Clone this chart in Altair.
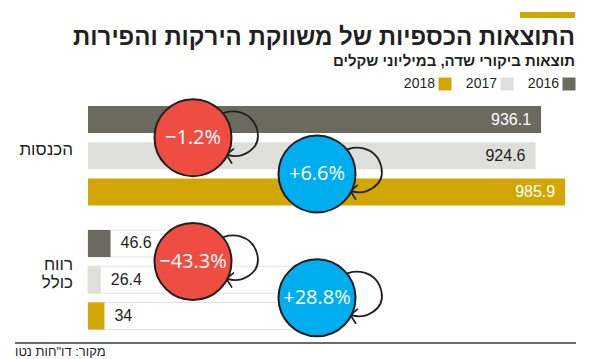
import altair as alt
import pandas as pd

# ---- data ----
GROUPS = ["הכנסות", "רווח\nכולל"]
YEARS = ["2016", "2017", "2018"]
REVENUE = [936.1, 924.6, 985.9]
PROFIT = [46.6, 26.4, 34]
CHANGE_REV = ["−1.2%", "+6.6%"]
CHANGE_PROF = ["−43.3%", "+28.8%"]
COLORS = ["#6B6A5F", "#DEDEDA", "#D2A704"]

TITLE = "התוצאות הכספיות של משווקת הירקות והפירות"
SUBTITLE = "תוצאות ביקורי שדה, במיליוני שקלים"
SOURCE = "מקור: דו\"חות נטו"

# ---- layout constants (pixels) ----
W, PT, PH = 574, 92, 259
ZERO_PX, PPU = 80, 0.484          # x of value 0, pixels per unit
FIRST_ROW_PX, PITCH = 19.5, 36.25  # centre of first row, row pitch
GROUP_STEP = 3.42                  # rows between the two groups
BAR_HALF = 13.5 / PITCH
CAT_LH = 18

HEB = "Liberation Sans"
NUM = "Liberation Sans"
DARK = "#231F20"

rows = []
for gi, vals in enumerate([REVENUE, PROFIT]):
    for yi, (yr, v) in enumerate(zip(YEARS, vals)):
        slot = gi * GROUP_STEP + yi
        rows.append(dict(group=gi, year=yr, value=v, label=f"{v:g}",
                         slot=slot, y0=slot - BAR_HALF, y1=slot + BAR_HALF))
df = pd.DataFrame(rows)

circ = []
for gi, ch in enumerate([CHANGE_REV, CHANGE_PROF]):
    for k, txt in enumerate(ch):
        circ.append(dict(group=gi, k=k, text=txt, slot=gi * GROUP_STEP + k + 0.5,
                         neg=txt.startswith("−")))
dc = pd.DataFrame(circ)

cats = pd.DataFrame(dict(
    name=GROUPS,
    slot=[gi * GROUP_STEP + 1 - (g.count("\n")) * 0.5 * CAT_LH / PITCH
          for gi, g in enumerate(GROUPS)]))
leg = pd.DataFrame(dict(year=YEARS))
one = alt.Data(values=[{}])

XS = alt.Scale(domain=[-ZERO_PX / PPU, (W - ZERO_PX) / PPU], nice=False, zero=False)
YS = alt.Scale(domain=[-FIRST_ROW_PX / PITCH, (PH - FIRST_ROW_PX) / PITCH],
               nice=False, zero=False, reverse=True)
X = lambda f: alt.X(f, type="quantitative", scale=XS, axis=None)
Y = lambda f: alt.Y(f, type="quantitative", scale=YS, axis=None)
CS = alt.Scale(domain=YEARS, range=COLORS)

base = alt.Chart(df)

# tracks behind the profit bars
prof = base.transform_filter("datum.group == 1")
track1 = prof.transform_filter("datum.year == '2016'").transform_calculate(zero="0").mark_rect(
    fill="white", stroke="#E2E2E2", strokeWidth=1).encode(
    x=alt.X("zero:Q", scale=XS, axis=None), x2=alt.value(185),
    y=Y("y0"), y2=alt.Y2("y1"))
track2 = prof.transform_filter("datum.year != '2016'").transform_calculate(zero="0").mark_rect(
    fill="white", stroke="#E2E2E2", strokeWidth=1).encode(
    x=alt.X("zero:Q", scale=XS, axis=None), x2=alt.value(309),
    y=Y("y0"), y2=alt.Y2("y1"))

bars = base.transform_calculate(zero="0").mark_rect().encode(
    x=alt.X("zero:Q", scale=XS, axis=None), x2=alt.X2("value"),
    y=Y("y0"), y2=alt.Y2("y1"),
    color=alt.Color("year:N", scale=CS, legend=None),
)

rev_lbl = base.transform_filter("datum.group == 0").mark_text(
    align="right", baseline="middle", dx=-10, font=NUM, fontSize=16).encode(
    x=X("value"), y=Y("slot"), text="label:N",
    color=alt.condition("datum.year == '2017'", alt.value(DARK), alt.value("white")))

prof_lbl = base.transform_filter("datum.group == 1").mark_text(
    align="left", baseline="middle", dx=10, font=NUM, fontSize=16, color=DARK).encode(
    x=X("value"), y=Y("slot"), text="label:N")

CX = alt.X("k:O", scale=alt.Scale(type="point", domain=[0, 1], range=[185, 309], padding=0), axis=None)

S = 70.0
pts = [(26, -22), (36, -30), (60, -28), (64.5, -6), (68, 12), (48, 22), (34, 17)]
head = [(41, 11), (33.5, 17), (39, 26)]
f = lambda p: f"{p[0] / S:.4f} {p[1] / S:.4f}"
LOOP = (f"M {f(pts[0])} C {f(pts[1])} {f(pts[2])} {f(pts[3])} C {f(pts[4])} {f(pts[5])} {f(pts[6])} "
        f"M {f(head[0])} L {f(head[1])} L {f(head[2])}")

loops = alt.Chart(dc).mark_point(shape=LOOP, size=(2 * S) ** 2, filled=False,
                                 stroke=DARK, strokeWidth=1.8, opacity=1).encode(
    x=CX, y=Y("slot"))

circles = alt.Chart(dc).mark_point(shape="circle", size=77 ** 2, filled=True,
                                   stroke=DARK, strokeWidth=2, opacity=1).encode(
    x=CX, y=Y("slot"),
    fill=alt.condition("datum.neg", alt.value("#EF4D42"), alt.value("#00AEEF")))

ctext = alt.Chart(dc).mark_text(font="Open Sans", fontSize=20, color="white",
                                align="center", baseline="middle").encode(
    x=CX, y=Y("slot"), text="text:N")

catlbl = alt.Chart(cats).mark_text(align="right", baseline="middle", dy=-6, font=HEB,
                                   fontSize=17, color=DARK, lineBreak="\n",
                                   lineHeight=CAT_LH).encode(
    x=alt.value(65), y=Y("slot"), text="name:N")

LX = alt.X("year:O", scale=alt.Scale(type="point", domain=YEARS, range=[561, 437], padding=0), axis=None)
leg_sq = alt.Chart(leg).mark_square(size=169, opacity=1).encode(
    x=LX, y=alt.value(-16), color=alt.Color("year:N", scale=CS, legend=None))
leg_tx = alt.Chart(leg).mark_text(align="right", baseline="middle", dx=-10, font=NUM,
                                  fontSize=14, color=DARK).encode(
    x=LX, y=alt.value(-16), text="year:N")

accent = alt.Chart(one).mark_rect(color="#D2A704").encode(
    x=alt.value(512), x2=alt.value(567), y=alt.value(-88), y2=alt.value(-82))
title = alt.Chart(one).mark_text(align="right", baseline="alphabetic", font=HEB, fontSize=24,
                                 fontWeight="bold", color=DARK, text=TITLE).encode(
    x=alt.value(567), y=alt.value(-55))
subtitle = alt.Chart(one).mark_text(align="right", baseline="alphabetic", font=HEB, fontSize=15,
                                    fontWeight="bold", color=DARK, text=SUBTITLE).encode(
    x=alt.value(567), y=alt.value(-34))
sep = alt.Chart(one).mark_rule(color="#3A3A3A", strokeWidth=1.5).encode(
    x=alt.value(7), x2=alt.value(568), y=alt.value(243))
src = alt.Chart(one).mark_text(align="left", baseline="middle", font=HEB, fontSize=13,
                               color=DARK, text=SOURCE).encode(
    x=alt.value(7), y=alt.value(252))

chart = alt.layer(
    track1, track2, bars, rev_lbl, prof_lbl, loops, circles, ctext, catlbl,
    leg_sq, leg_tx, accent, title, subtitle, sep, src,
).resolve_scale(x="independent", color="independent").properties(
    width=W, height=PH, background="white",
    padding={"left": 0, "right": 0, "top": PT, "bottom": 0},
    autosize=alt.AutoSizeParams(type="none"),
).configure_view(stroke=None)

chart.save("out.html", embed_options={"renderer": "svg", "actions": False})
